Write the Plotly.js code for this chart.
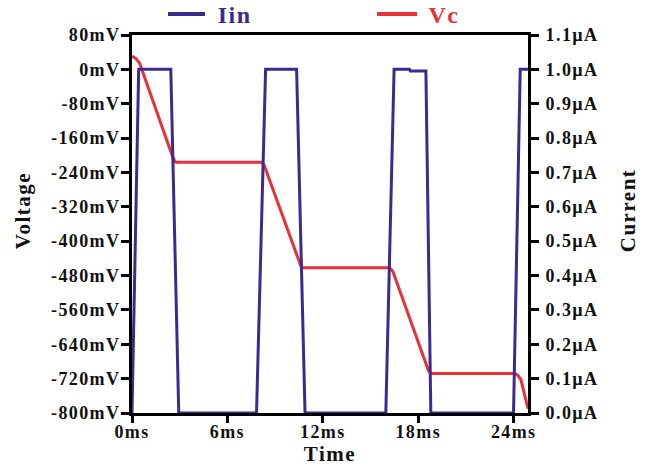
<!DOCTYPE html>
<html><head><meta charset="utf-8">
<script src="https://cdn.plot.ly/plotly-3.0.1.min.js"></script>
<style>
html,body{margin:0;padding:0;background:#fff}
#chart{width:646px;height:467px}
#chart .xtick text, #chart .ytick text, #chart .y2tick text { letter-spacing: 1.4px; }
#chart .xtitle, #chart .annotation-text { letter-spacing: 1.5px; }
</style>
</head><body><div id="chart"></div>
<script>
// Time (ms) and Iin (µA)
const tIin = [0, 0.42, 2.44, 2.94, 7.83, 8.40, 10.35, 10.88, 15.96, 16.48, 17.45, 17.5, 18.48, 18.79, 23.99, 24.41, 24.9];
const iin  = [0, 1.0, 1.0, 0, 0, 1.0, 1.0, 0, 0, 1.0, 1.0, 0.995, 0.995, 0, 0, 1.0, 1.0];
// Time (ms) and Vc (mV)
const tVc = [0, 0.25, 0.48, 2.6, 2.75, 8.1, 8.3, 10.6, 10.75, 16.2, 16.4, 18.65, 18.8, 24.05, 24.25, 24.45, 24.9];
const vc  = [31, 25, 14, -208, -216, -216, -222, -456, -462, -462, -470, -702, -708, -708, -712, -722, -790];

const xTicks = [0, 6, 12, 18, 24];
const vTicks = [80, 0, -80, -160, -240, -320, -400, -480, -560, -640, -720, -800];
const iTicks = [1.1, 1.0, 0.9, 0.8, 0.7, 0.6, 0.5, 0.4, 0.3, 0.2, 0.1, 0.0];
const seriesNames = ['Iin', 'Vc'];
const axisTitles = ['Time', 'Voltage', 'Current'];

const blue = '#3b2a8f', red = '#e8303a';
const fam = '"Liberation Serif", "Times New Roman", serif';
const tickFont = {family: fam, size: 18, color: '#111', weight: 'bold'};
const titleFont = {family: fam, size: 21, color: '#111', weight: 'bold'};

const traces = [
  {x: tIin, y: iin, yaxis: 'y2', mode: 'lines', name: seriesNames[0], line: {color: blue, width: 3}},
  {x: tVc, y: vc, mode: 'lines', name: seriesNames[1], line: {color: red, width: 3}}
];

const axBase = {showgrid: false, zeroline: false, showline: true, linecolor: '#000', linewidth: 3,
  ticks: 'outside', ticklen: 8, tickwidth: 3, tickcolor: '#000', layer: 'below traces', tickfont: tickFont};

// paper coords helpers; plot area spans y 35..413 px, x 132..528 px
const py = Y => (413 - Y) / 378;
const px = X => (X - 132) / 396;
const legY = py(14);
const shapes = [
  {type: 'line', xref: 'paper', yref: 'paper', x0: px(168), x1: px(205), y0: legY, y1: legY, line: {color: blue, width: 4}},
  {type: 'line', xref: 'paper', yref: 'paper', x0: px(377), x1: px(417), y0: legY, y1: legY, line: {color: red, width: 4}}
];
const annotations = [
  {xref: 'paper', yref: 'paper', x: px(218), y: py(15), xanchor: 'left', yanchor: 'middle', showarrow: false,
   text: seriesNames[0], font: {family: fam, size: 24, color: blue, weight: 'bold'}},
  {xref: 'paper', yref: 'paper', x: px(428), y: py(15), xanchor: 'left', yanchor: 'middle', showarrow: false,
   text: seriesNames[1], font: {family: fam, size: 24, color: red, weight: 'bold'}},
  {xref: 'paper', yref: 'paper', x: px(23), y: py(211), xanchor: 'center', yanchor: 'middle', showarrow: false,
   textangle: -90, text: axisTitles[1], font: titleFont},
  {xref: 'paper', yref: 'paper', x: px(628), y: py(211), xanchor: 'center', yanchor: 'middle', showarrow: false,
   textangle: -90, text: axisTitles[2], font: titleFont}
];

const layout = {
  width: 646, height: 467,
  margin: {l: 132, r: 118, t: 35, b: 54},
  paper_bgcolor: '#fff', plot_bgcolor: '#fff',
  showlegend: false,
  shapes: shapes, annotations: annotations,
  xaxis: Object.assign({}, axBase, {range: [0, 24.9], tickvals: xTicks, ticktext: xTicks.map(v => v + 'ms'),
    ticklen: 7, ticklabelstandoff: -7,
    mirror: true, title: {text: axisTitles[0], font: titleFont, standoff: 5}}),
  yaxis: Object.assign({}, axBase, {range: [-800, 80], tickvals: vTicks, ticktext: vTicks.map(v => v + 'mV'),
    ticklabelstandoff: -3}),
  yaxis2: Object.assign({}, axBase, {range: [0, 1.1], overlaying: 'y', side: 'right',
    tickvals: iTicks, ticktext: iTicks.map(v => v.toFixed(1) + 'µA'),
    ticklabelstandoff: 3})
};

Plotly.newPlot('chart', traces, layout, {displayModeBar: false, staticPlot: true});
</script></body></html>
